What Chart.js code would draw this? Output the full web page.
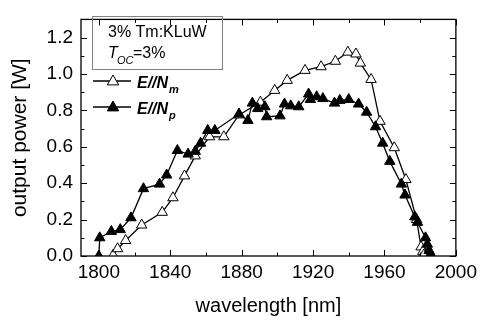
<!DOCTYPE html>
<html>
<head>
<meta charset="utf-8">
<script src="https://cdn.jsdelivr.net/npm/chart.js@4.4.0/dist/chart.umd.min.js"></script>
<style>
    html, body { margin: 0; padding: 0; background: #fff; }
    #wrap { width: 482px; height: 320px; }
</style>
</head>
<body>
<div id="wrap"><canvas id="powerChart" width="482" height="320"></canvas></div>
<script>
    // wavelength [nm] / output power [W]
    var nmWave  = [1808, 1810.5, 1815, 1824, 1835.5, 1841.5, 1848, 1854, 1862, 1870, 1878.5, 1890.5, 1898.5, 1905.5,
                   1915.5, 1924.5, 1932.5, 1939.5, 1944, 1946.5, 1952.5, 1957.5, 1965.5, 1972, 1978, 1980.5, 1981.5, 1982];
    var nmPower = [0.005, 0.04, 0.085, 0.17, 0.24, 0.32, 0.44, 0.55, 0.655, 0.655, 0.775, 0.845, 0.91, 0.965,
                   1.02, 1.04, 1.07, 1.12, 1.11, 1.06, 0.97, 0.74, 0.595, 0.42, 0.20, 0.05, 0.025, 0.005];

    var npWave  = [1800, 1800.5, 1807, 1812, 1818, 1825, 1834, 1838, 1844, 1850, 1854, 1857, 1861, 1865,
                   1878.5, 1883.5, 1886, 1889, 1893, 1894, 1901.5, 1904, 1907.5, 1912, 1917.5, 1918.5, 1922, 1925.5,
                   1932, 1935, 1940, 1945.5, 1950, 1955, 1959, 1963, 1969.5, 1971.5, 1977, 1978.5, 1983, 1984, 1985, 1986];
    var npPower = [0.0, 0.10, 0.135, 0.145, 0.21, 0.37, 0.395, 0.445, 0.58, 0.56, 0.575, 0.62, 0.69, 0.69,
                   0.78, 0.745, 0.84, 0.81, 0.82, 0.765, 0.77, 0.835, 0.825, 0.82, 0.89, 0.86, 0.875, 0.865,
                   0.84, 0.855, 0.86, 0.835, 0.79, 0.71, 0.62, 0.52, 0.395, 0.335, 0.215, 0.185, 0.10, 0.065, 0.03, 0.01];

    var xTicks = [1800, 1820, 1840, 1860, 1880, 1900, 1920, 1940, 1960, 1980, 2000];
    var yTicks = [0, 0.1, 0.2, 0.3, 0.4, 0.5, 0.6, 0.7, 0.8, 0.9, 1.0, 1.1, 1.2, 1.3];

    var FONT = "'Liberation Sans', Arial, Helvetica, sans-serif";

    function toPoints(xs, ys) {
        var pts = [];
        for (var i = 0; i < xs.length; i++) {
            pts.push({x: xs[i], y: ys[i]});
        }
        return pts;
    }

    function drawTriangle(ctx, x, y, r, filled) {
        ctx.beginPath();
        ctx.moveTo(x, y - r);
        ctx.lineTo(x + r * 0.95, y + r * 0.65);
        ctx.lineTo(x - r * 0.95, y + r * 0.65);
        ctx.closePath();
        ctx.fillStyle = filled ? '#000' : '#fff';
        ctx.fill();
        ctx.lineWidth = 1;
        ctx.strokeStyle = '#000';
        ctx.stroke();
    }

    // frame, inward ticks and the text box / legend
    var framePlugin = {
        id: 'frame',
        afterDraw: function(chart) {
            var ctx = chart.ctx, a = chart.chartArea;
            var xs = chart.scales.x, ys = chart.scales.y;
            ctx.save();
            ctx.strokeStyle = '#000';
            ctx.lineWidth = 1.3;
            ctx.strokeRect(a.left, a.top, a.right - a.left, a.bottom - a.top);

            ctx.lineWidth = 1;
            ctx.beginPath();
            xTicks.forEach(function(v) {
                var px = Math.round(xs.getPixelForValue(v)) + 0.5;
                var len = (v % 40 === 0) ? 6 : 3.5;
                ctx.moveTo(px, a.bottom); ctx.lineTo(px, a.bottom - len);
                ctx.moveTo(px, a.top); ctx.lineTo(px, a.top + len);
            });
            yTicks.forEach(function(v) {
                var py = Math.round(ys.getPixelForValue(v)) + 0.5;
                var len = (Math.round(v * 10) % 2 === 0) ? 6 : 3.5;
                ctx.moveTo(a.left, py); ctx.lineTo(a.left + len, py);
                ctx.moveTo(a.right, py); ctx.lineTo(a.right - len, py);
            });
            ctx.stroke();

            // sample box
            ctx.strokeStyle = '#808080';
            ctx.strokeRect(92.5, 16.5, 130, 53);
            ctx.fillStyle = '#000';
            ctx.textBaseline = 'alphabetic';
            ctx.font = '16px ' + FONT;
            ctx.fillText('3% Tm:KLuW', 108, 37);
            ctx.font = 'italic 16px ' + FONT;
            ctx.fillText('T', 108, 58);
            ctx.font = 'italic 11px ' + FONT;
            ctx.fillText('OC', 117, 64);
            ctx.font = '16px ' + FONT;
            ctx.fillText('=3%', 133, 58);

            // legend
            var rows = [{y: 81, filled: false, sub: 'm'}, {y: 107, filled: true, sub: 'p'}];
            rows.forEach(function(r) {
                ctx.strokeStyle = '#000';
                ctx.lineWidth = 1.3;
                ctx.beginPath();
                ctx.moveTo(93, r.y); ctx.lineTo(131, r.y);
                ctx.stroke();
                drawTriangle(ctx, 113, r.y, 6, r.filled);
                ctx.fillStyle = '#000';
                ctx.font = 'italic bold 16px ' + FONT;
                ctx.fillText('E//N', 137, r.y + 7);
                ctx.font = 'italic bold 11px ' + FONT;
                ctx.fillText(r.sub, 169, r.y + 12);
            });
            ctx.restore();
        }
    };

    var tickFont = {family: FONT, size: 19};

    new Chart(document.getElementById('powerChart'), {
        type: 'scatter',
        data: {
            datasets: [
                {
                    label: 'E//Np',
                    data: toPoints(npWave, npPower),
                    showLine: true,
                    borderColor: '#000',
                    borderWidth: 1.3,
                    pointStyle: 'triangle',
                    pointRadius: 6,
                    pointBackgroundColor: '#000',
                    pointBorderColor: '#000',
                    pointBorderWidth: 1,
                    order: 0
                },
                {
                    label: 'E//Nm',
                    data: toPoints(nmWave, nmPower),
                    showLine: true,
                    borderColor: '#000',
                    borderWidth: 1.3,
                    pointStyle: 'triangle',
                    pointRadius: 6,
                    pointBackgroundColor: '#fff',
                    pointBorderColor: '#000',
                    pointBorderWidth: 1,
                    order: 1
                }
            ]
        },
        options: {
            responsive: false,
            animation: false,
            layout: {padding: {left: 0, right: 22, top: 9, bottom: 0}},
            plugins: {legend: {display: false}, tooltip: {enabled: false}},
            scales: {
                x: {
                    type: 'linear',
                    min: 1790,
                    max: 2000,
                    afterBuildTicks: function(s) { s.ticks = xTicks.map(function(v) { return {value: v}; }); },
                    afterFit: function(s) { s.height = 64; },
                    grid: {display: false, drawTicks: false},
                    border: {display: false},
                    ticks: {
                        font: tickFont, color: '#000', padding: 5, maxRotation: 0, autoSkip: false,
                        callback: function(v) { return v % 40 === 0 ? String(v) : ''; }
                    },
                    title: {display: true, text: 'wavelength [nm]', color: '#000',
                            font: {family: FONT, size: 20}, padding: {top: 0, bottom: 2}}
                },
                y: {
                    type: 'linear',
                    min: 0,
                    max: 1.3,
                    afterBuildTicks: function(s) { s.ticks = yTicks.map(function(v) { return {value: v}; }); },
                    afterFit: function(s) { s.width = 81; },
                    grid: {display: false, drawTicks: false},
                    border: {display: false},
                    ticks: {
                        font: tickFont, color: '#000', padding: 8, autoSkip: false,
                        callback: function(v) {
                            return (Math.round(v * 10) % 2 === 0 && v < 1.25) ? v.toFixed(1) : '';
                        }
                    },
                    title: {display: true, text: 'output power [W]', color: '#000',
                            font: {family: FONT, size: 21}, padding: {top: 8, bottom: 0}}
                }
            }
        },
        plugins: [framePlugin]
    });
</script>
</body>
</html>
